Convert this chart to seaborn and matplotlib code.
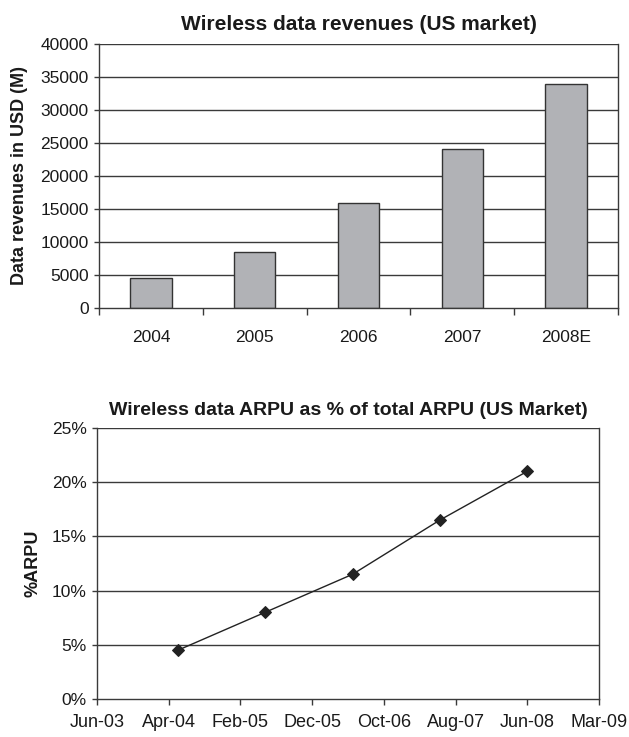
import matplotlib
matplotlib.use("Agg")
import matplotlib.pyplot as plt
import matplotlib.dates as mdates
import seaborn as sns
import pandas as pd
import numpy as np

# Wireless data revenues, USD millions
years = ["2004", "2005", "2006", "2007", "2008E"]
revenues = [4500, 8500, 15850, 24100, 34000]

# Data ARPU share of total ARPU
arpu_dates = ["2004-06-01", "2005-06-01", "2006-06-01", "2007-06-01", "2008-06-01"]
arpu_pct = [4.5, 8.0, 11.5, 16.5, 21.0]

sns.set_theme(style="white")
plt.rcParams["font.family"] = ["Liberation Sans", "DejaVu Sans"]

fig = plt.figure(figsize=(6.29, 7.37), dpi=100)
ax1 = fig.add_axes([0.1574, 0.5821, 0.8251, 0.3582])
ax2 = fig.add_axes([0.1542, 0.0516, 0.7981, 0.3677])

grid_c = "#3a3a3a"
text_c = "#1a1a1a"
tick_fs = 12.5

# ---- Top: bar chart ----
df1 = pd.DataFrame({"year": years, "revenue": revenues})
sns.barplot(data=df1, x="year", y="revenue", ax=ax1, color="#b1b2b6",
            edgecolor="#333333", linewidth=1.0, width=0.4, saturation=1)
ax1.set_xlim(-0.5, len(years) - 0.5)
ax1.set_ylim(0, 40000)
ax1.set_yticks(np.arange(0, 40001, 5000))
for y in np.arange(5000, 40001, 5000):
    ax1.axhline(y, color=grid_c, lw=1.0, zorder=0)
ax1.set_xticks(np.arange(-0.5, len(years) + 0.5, 1.0))
ax1.set_xticklabels([])
ax1.set_xticks(np.arange(len(years)), minor=True)
ax1.set_xticklabels(years, minor=True)
ax1.tick_params(axis="x", which="major", direction="out", length=5, width=1, color=grid_c, bottom=True)
ax1.tick_params(axis="x", which="minor", length=0, pad=16, labelsize=tick_fs, labelcolor=text_c)
ax1.tick_params(axis="y", direction="out", length=3.5, width=1, color=grid_c, left=True,
                labelsize=tick_fs, pad=4, labelcolor=text_c)
ax1.set_xlabel("")
ax1.set_ylabel("Data revenues in USD (M)", fontsize=13, fontweight="bold", labelpad=9, color=text_c)
ax1.set_title("Wireless data revenues (US market)", fontsize=15, fontweight="bold", pad=10, color=text_c)
for side in ["left", "bottom", "right", "top"]:
    ax1.spines[side].set_color(grid_c)
    ax1.spines[side].set_linewidth(1.0)
ax1.spines["top"].set_visible(False)

# ---- Bottom: line chart ----
df2 = pd.DataFrame({"date": pd.to_datetime(arpu_dates), "pct": arpu_pct})
sns.lineplot(data=df2, x="date", y="pct", ax=ax2, color="#222222", lw=1.0,
             marker="D", markersize=6.5, markeredgecolor="#222222")
tick_dates = pd.date_range("2003-06-28", periods=8, freq="300D")
ax2.set_xlim(tick_dates[0], tick_dates[-1])
ax2.set_xticks(tick_dates)
ax2.xaxis.set_major_formatter(mdates.DateFormatter("%b-%y"))
ax2.set_ylim(0, 25)
ax2.set_yticks(np.arange(0, 26, 5))
ax2.set_yticklabels([f"{v}%" for v in range(0, 26, 5)])
for y in np.arange(5, 26, 5):
    ax2.axhline(y, color=grid_c, lw=1.0, zorder=0)
ax2.tick_params(axis="x", direction="out", length=4, width=1, color=grid_c, bottom=True,
                labelsize=13, pad=7, labelcolor=text_c)
ax2.tick_params(axis="y", direction="out", length=3.5, width=1, color=grid_c, left=True,
                labelsize=tick_fs, pad=4, labelcolor=text_c)
ax2.set_xlabel("")
ax2.set_ylabel("%ARPU", fontsize=13, fontweight="bold", labelpad=7, color=text_c)
ax2.set_title("Wireless data ARPU as % of total ARPU (US Market)", fontsize=14, fontweight="bold",
              pad=9, color=text_c)
for side in ["left", "bottom", "right", "top"]:
    ax2.spines[side].set_color(grid_c)
    ax2.spines[side].set_linewidth(1.0)
ax2.spines["top"].set_visible(False)

fig.savefig("out.png", dpi=100)
